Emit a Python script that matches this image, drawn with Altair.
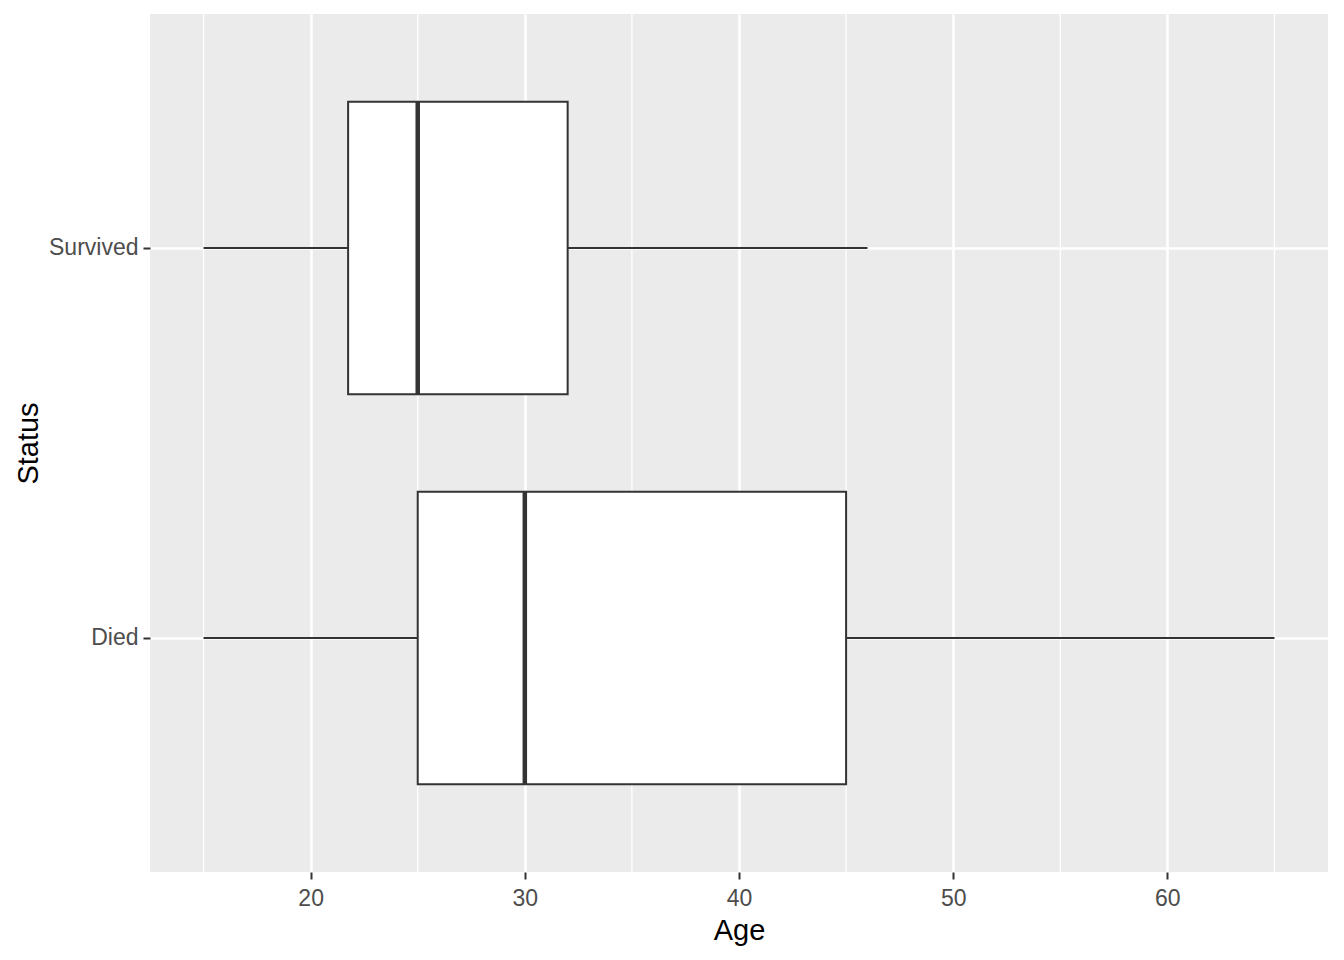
import altair as alt
import pandas as pd

status = ["Survived", "Died"]
whisker_low = [15, 15]
q1 = [21.75, 25]
median = [25, 30]
q3 = [32, 45]
whisker_high = [46, 65]
minor_breaks = [15, 25, 35, 45, 55, 65]
major_breaks = [20, 30, 40, 50, 60]

df = pd.DataFrame({
    "Status": status,
    "lo": whisker_low,
    "q1": q1,
    "med": median,
    "q3": q3,
    "hi": whisker_high,
})
minor_df = pd.DataFrame({"m": minor_breaks})

xscale = alt.Scale(domain=[12.5, 67.5], nice=False, zero=False)
yscale = alt.Scale(domain=status, paddingInner=0.25, paddingOuter=0.225)

xaxis = alt.Axis(
    values=major_breaks, title="Age", grid=True, gridColor="white", gridWidth=2.6,
    domain=False, tickColor="#333333", tickSize=7, tickWidth=2,
    labelFont="Liberation Sans", labelFontSize=23, labelColor="#4D4D4D", labelPadding=8,
    titleFont="Liberation Sans", titleFontSize=29, titleColor="black", titleFontWeight="normal",
    titlePadding=6,
)
yaxis = alt.Axis(
    title="Status", grid=True, gridColor="white", gridWidth=2.6,
    domain=False, tickColor="#333333", tickSize=7, tickWidth=2,
    labelFont="Liberation Sans", labelFontSize=23, labelColor="#4D4D4D", labelPadding=5,
    titleFont="Liberation Sans", titleFontSize=29, titleColor="black", titleFontWeight="normal",
    titlePadding=5,
)

minor = alt.Chart(minor_df).mark_rule(color="white", strokeWidth=1.3).encode(
    x=alt.X("m:Q", scale=xscale, axis=xaxis)
)

whisk = alt.Chart(df).mark_rule(color="#333333", strokeWidth=2).encode(
    x=alt.X("lo:Q", scale=xscale, axis=xaxis),
    x2="hi:Q",
    y=alt.Y("Status:N", scale=yscale, sort=status, axis=yaxis, bandPosition=0.5),
)

box = alt.Chart(df).mark_bar(fill="white", stroke="#333333", strokeWidth=2).encode(
    x=alt.X("q1:Q", scale=xscale, axis=xaxis),
    x2="q3:Q",
    y=alt.Y("Status:N", scale=yscale, sort=status, axis=yaxis),
)

med = alt.Chart(df).mark_tick(color="#333333", opacity=1, thickness=4.5, size=293, orient="vertical").encode(
    x=alt.X("med:Q", scale=xscale, axis=xaxis),
    y=alt.Y("Status:N", scale=yscale, sort=status, axis=yaxis),
)

chart = alt.layer(minor, whisk, box, med).properties(
    width=1178, height=858,
    autosize=alt.AutoSizeParams(type="none"),
    padding={"left": 142, "top": 6, "right": 8, "bottom": 80},
).configure_view(fill="#EBEBEB", stroke=None)

chart.save("out.html", embed_options={"renderer": "svg", "actions": False})
